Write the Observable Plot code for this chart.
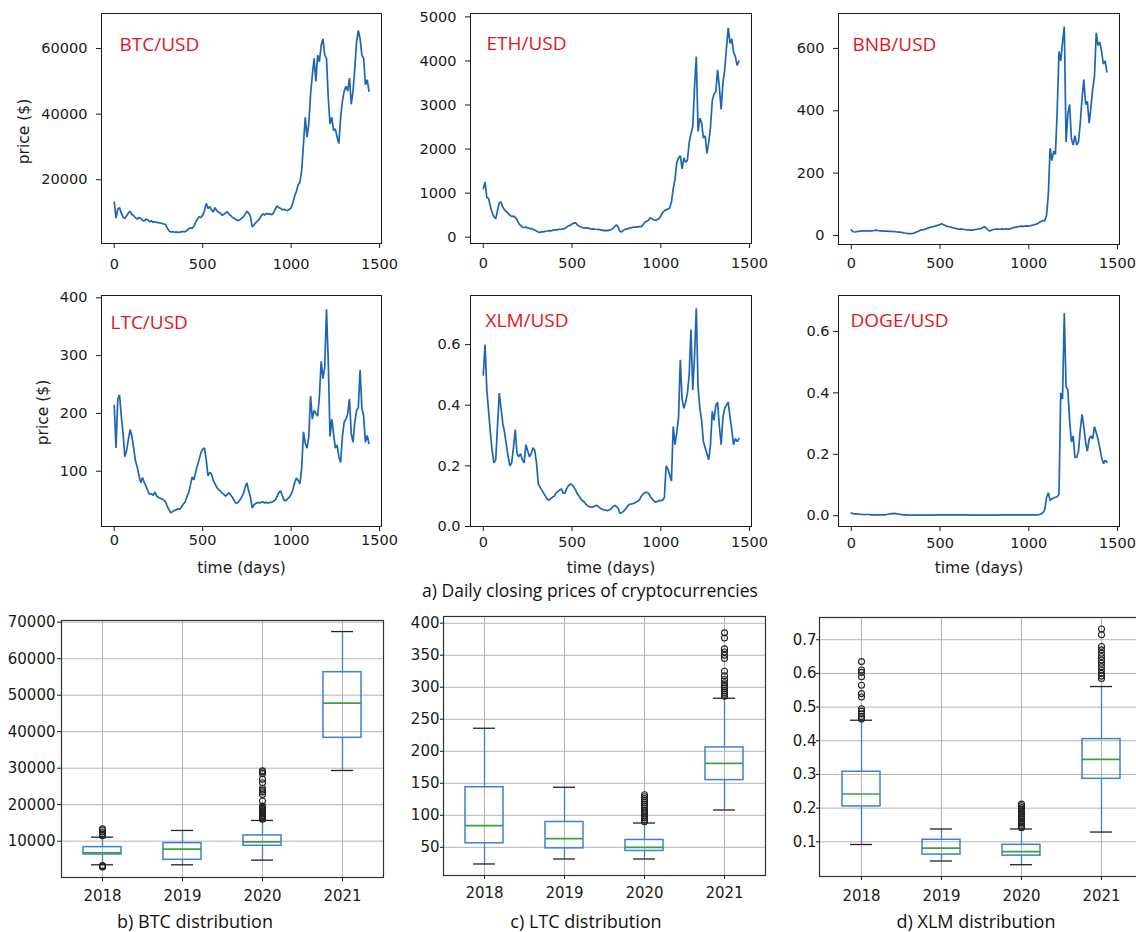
<!DOCTYPE html>
<html><head><meta charset="utf-8">
<script src="https://cdn.jsdelivr.net/npm/d3@7"></script>
<script src="https://cdn.jsdelivr.net/npm/@observablehq/plot@0.6"></script>
<style>
html,body{margin:0;padding:0;background:#fff;}
#root{position:relative;width:1136px;height:932px;overflow:hidden;background:#fff;}
.panel{position:absolute;}
.cap{position:absolute;font-family:"Open Sans",sans-serif;color:#111;white-space:nowrap;line-height:1;transform:translateX(-50%);}
</style></head><body><div id="root"></div>
<script>
// ---------- daily closing prices, one value every 10 days (day 0 .. 1440) ----------
const btcPrice = [
 13200, 8300, 11000, 11500, 9800, 8600, 8200, 9000, 9800, 10400,
 9400, 9000, 8400, 8000, 8500, 8200, 7600, 7400, 8000, 7800,
 7200, 7500, 7000, 7200, 7000, 6900, 6800, 6700, 6500, 6400,
 5200, 4400, 4000, 4200, 3900, 4100, 3900, 4000, 4100, 4200,
 4100, 4500, 5000, 5300, 5200, 5800, 7000, 8000, 8700, 8500,
 9200, 10500, 12800, 11200, 11800, 10800, 10200, 11500, 10500, 10100,
 9800, 9200, 9400, 9900, 10200, 9400, 9000, 8400, 8200, 7800,
 7500, 7800, 8200, 8700, 9500, 10400, 9800, 8800, 5600, 6200,
 6900, 7400, 8000, 8900, 9600, 9200, 9700, 9500, 9600, 9300,
 9800, 11000, 12000, 11500, 11300, 10800, 11000, 10700, 10600, 11000,
 11400, 13000, 15000, 16500, 18500, 19200, 23000, 31000, 39000, 33000,
 37000, 46000, 52000, 57000, 50000, 58000, 56000, 61000, 63000, 58000,
 57000, 45000, 37000, 39000, 35000, 35500, 33000, 31000, 39000, 44000,
 47000, 48500, 47000, 51000, 43000, 47000, 54000, 62000, 65500, 63000,
 58000, 57000, 49000, 50500, 47000];
const ethPrice = [
 1100, 1250, 900, 880, 700, 560, 460, 420, 600, 780,
 800, 680, 620, 580, 540, 500, 470, 480, 450, 400,
 310, 270, 230, 220, 230, 210, 200, 195, 180, 160,
 140, 115, 110, 125, 120, 135, 140, 150, 145, 155,
 165, 165, 170, 180, 180, 190, 200, 230, 260, 270,
 300, 320, 330, 280, 250, 230, 215, 210, 205, 210,
 195, 185, 190, 180, 175, 180, 165, 160, 150, 155,
 150, 160, 170, 200, 240, 280, 230, 130, 120, 160,
 180, 190, 200, 210, 225, 230, 230, 235, 240, 240,
 280, 340, 360, 380, 440, 420, 390, 380, 400, 420,
 480, 560, 600, 620, 640, 660, 800, 1100, 1300, 1700,
 1800, 1850, 1550, 1800, 1700, 1750, 2150, 2350, 2500, 3400,
 4100, 2400, 2700, 2600, 2250, 2300, 1900, 2150, 2500, 3100,
 3250, 3300, 3800, 3400, 2900, 3500, 3800, 4300, 4750, 4400,
 4500, 4200, 4100, 3900, 4000];
const bnbPrice = [
 18, 12, 11, 12, 13, 14, 14, 15, 15, 14,
 15, 15, 15, 16, 17, 16, 15, 15, 14, 14,
 14, 13, 13, 13, 12, 12, 11, 11, 10, 9,
 8, 7, 6, 6, 6, 7, 9, 12, 14, 17,
 18, 19, 21, 23, 25, 27, 28, 30, 31, 33,
 35, 38, 34, 32, 29, 28, 27, 25, 24, 22,
 21, 20, 21, 20, 19, 18, 18, 17, 17, 18,
 19, 20, 21, 22, 25, 28, 24, 18, 14, 17,
 19, 20, 21, 20, 20, 21, 20, 21, 21, 20,
 22, 25, 26, 27, 28, 29, 30, 29, 30, 31,
 30, 31, 33, 34, 36, 38, 42, 45, 48, 47,
 65, 130, 280, 240, 270, 260, 400, 590, 560, 620,
 670, 300, 390, 420, 310, 290, 320, 290, 300, 360,
 440, 500, 420, 430, 360, 410, 470, 510, 650, 610,
 620, 590, 550, 560, 525];
const ltcPrice = [
 214, 140, 225, 232, 195, 165, 125, 136, 155, 172,
 160, 140, 118, 107, 92, 80, 89, 80, 74, 66,
 60, 61, 58, 64, 57, 55, 53, 52, 50, 47,
 39, 33, 28, 30, 32, 33, 35, 34, 38, 43,
 46, 55, 62, 75, 90, 85, 98, 110, 120, 132,
 138, 140, 120, 92, 98, 95, 84, 78, 72, 68,
 66, 62, 60, 57, 60, 63, 58, 54, 48, 44,
 46, 50, 55, 61, 72, 80, 66, 55, 36, 42,
 44, 46, 45, 46, 47, 45, 46, 45, 46, 46,
 48, 50, 56, 63, 66, 58, 50, 49, 52, 55,
 60, 68, 80, 88, 84, 78, 107, 168, 148, 140,
 160, 230, 190, 205, 200, 195, 230, 290, 260, 280,
 380, 290, 160, 190, 165, 140, 145, 125, 115, 160,
 185, 190, 200, 225, 165, 150, 185, 205, 210, 275,
 210, 195, 150, 162, 148];
const xlmPrice = [
 0.50, 0.60, 0.45, 0.38, 0.31, 0.25, 0.21, 0.22, 0.33, 0.44,
 0.39, 0.34, 0.31, 0.27, 0.23, 0.20, 0.21, 0.26, 0.32, 0.24,
 0.23, 0.24, 0.22, 0.21, 0.27, 0.25, 0.23, 0.24, 0.26, 0.25,
 0.21, 0.14, 0.13, 0.12, 0.11, 0.10, 0.09, 0.087, 0.092, 0.097,
 0.10, 0.11, 0.115, 0.12, 0.124, 0.11, 0.11, 0.125, 0.135, 0.14,
 0.138, 0.13, 0.12, 0.108, 0.10, 0.09, 0.085, 0.08, 0.072, 0.068,
 0.065, 0.064, 0.065, 0.068, 0.07, 0.065, 0.06, 0.057, 0.055, 0.054,
 0.052, 0.055, 0.058, 0.065, 0.07, 0.066, 0.06, 0.043, 0.046, 0.05,
 0.057, 0.064, 0.072, 0.074, 0.075, 0.077, 0.08, 0.083, 0.088, 0.10,
 0.107, 0.112, 0.113, 0.11, 0.10, 0.092, 0.085, 0.08, 0.082, 0.086,
 0.085, 0.087, 0.095, 0.20, 0.19, 0.17, 0.15, 0.33, 0.27, 0.31,
 0.36, 0.55, 0.42, 0.39, 0.41, 0.44, 0.50, 0.65, 0.45, 0.56,
 0.72, 0.46, 0.39, 0.35, 0.28, 0.26, 0.24, 0.22, 0.27, 0.38,
 0.35, 0.40, 0.41, 0.33, 0.27, 0.36, 0.39, 0.40, 0.41, 0.36,
 0.32, 0.27, 0.29, 0.28, 0.29];
const dogePrice = [
 0.009, 0.007, 0.006, 0.006, 0.005, 0.005, 0.004, 0.004, 0.004, 0.004,
 0.004, 0.003, 0.003, 0.003, 0.003, 0.003, 0.003, 0.003, 0.003, 0.003,
 0.004, 0.005, 0.006, 0.007, 0.008, 0.007, 0.006, 0.005, 0.004, 0.003,
 0.003, 0.003, 0.002, 0.002, 0.002, 0.002, 0.002, 0.002, 0.002, 0.002,
 0.002, 0.002, 0.002, 0.002, 0.002, 0.002, 0.002, 0.002, 0.003, 0.003,
 0.003, 0.003, 0.003, 0.003, 0.003, 0.003, 0.003, 0.003, 0.003, 0.003,
 0.003, 0.003, 0.003, 0.003, 0.003, 0.003, 0.003, 0.002, 0.002, 0.002,
 0.002, 0.002, 0.002, 0.002, 0.002, 0.002, 0.002, 0.002, 0.002, 0.002,
 0.002, 0.002, 0.002, 0.002, 0.003, 0.003, 0.003, 0.003, 0.003, 0.003,
 0.003, 0.003, 0.003, 0.003, 0.003, 0.003, 0.003, 0.003, 0.003, 0.003,
 0.003, 0.003, 0.003, 0.003, 0.003, 0.003, 0.004, 0.006, 0.010, 0.020,
 0.060, 0.075, 0.050, 0.055, 0.058, 0.060, 0.062, 0.070, 0.400, 0.380,
 0.660, 0.420, 0.410, 0.310, 0.240, 0.260, 0.190, 0.190, 0.210, 0.280,
 0.330, 0.290, 0.240, 0.210, 0.250, 0.260, 0.250, 0.290, 0.270, 0.250,
 0.220, 0.190, 0.170, 0.180, 0.175];
const DAY_STEP = 10;
const dayTicks = [0, 500, 1000, 1500];

// ---------- yearly distributions (box plot summaries) ----------
const years = ["2018", "2019", "2020", "2021"];
const btcLow = [3530, 3530, 4810, 29370];
const btcQ1 = [6360, 4900, 8740, 38320];
const btcMedian = [6820, 7820, 9830, 47810];
const btcQ3 = [8370, 9470, 11570, 56300];
const btcHigh = [11100, 12940, 15680, 67440];
const btcOut2018 = [11500, 12000, 12500, 13100, 13400, 3300, 3150, 2950];
const btcOut2020 = [16000, 16300, 16600, 17000, 17400, 17800, 18100, 18400, 18700, 19000, 19300, 19600, 21000, 22800, 23500, 24000, 24500, 26000, 27000, 28500, 29000, 29300];

const ltcLow = [24, 31.8, 31.8, 108.3];
const ltcQ1 = [56.3, 48.4, 44.3, 155];
const ltcMedian = [83.9, 63.5, 50, 181];
const ltcQ3 = [143.8, 89.6, 61.5, 206];
const ltcHigh = [236, 143.8, 88, 282.8];
const ltcOut2020 = [90, 93, 96, 99, 102, 105, 108, 111, 114, 117, 120, 123, 126, 129, 132];
const ltcOut2021 = [286, 289, 292, 295, 298, 301, 304, 307, 312, 318, 325, 345, 350, 355, 360, 377, 385];

const xlmLow = [0.092, 0.043, 0.032, 0.129];
const xlmQ1 = [0.205, 0.062, 0.059, 0.287];
const xlmMedian = [0.242, 0.081, 0.071, 0.345];
const xlmQ3 = [0.308, 0.106, 0.091, 0.405];
const xlmHigh = [0.461, 0.138, 0.138, 0.561];
const xlmOut2018 = [0.465, 0.472, 0.48, 0.488, 0.495, 0.53, 0.54, 0.565, 0.59, 0.603, 0.61, 0.635];
const xlmOut2020 = [0.142, 0.147, 0.152, 0.157, 0.162, 0.167, 0.172, 0.177, 0.182, 0.187, 0.192, 0.197, 0.202, 0.207, 0.212];
const xlmOut2021 = [0.585, 0.592, 0.6, 0.61, 0.62, 0.63, 0.64, 0.65, 0.66, 0.67, 0.68, 0.715, 0.732];

// ---------- styles ----------
const lineBlue = "#1c66b5";
const boxBlue = "#3a82d2";
const medianGreen = "#3da143";
const labelRed = "#e3151c";
const root = document.getElementById("root");

function place(svg, left, top, width) {
  const div = document.createElement("div");
  div.className = "panel";
  div.style.left = left + "px";
  div.style.top = top + "px";
  div.style.width = width + "px";
  div.appendChild(svg);
  root.appendChild(div);
}

function linePanel(c) {
  const data = c.values.map((v, i) => ({day: i * DAY_STEP, price: v}));
  const marks = [
    Plot.axisX({ticks: dayTicks, tickSize: 5, tickPadding: c.xPad, tickFormat: d3.format("d"), label: null}),
    Plot.axisY({ticks: c.yTicks, tickSize: 5, tickPadding: c.yPad, tickFormat: c.fmt, label: null}),
    Plot.lineY(data, {x: "day", y: "price", stroke: lineBlue, strokeWidth: 1.7, strokeLinejoin: "miter"}),
    Plot.frame({stroke: "#1a1a1a", strokeWidth: 1}),
    Plot.text([c.name], {text: d => d, frameAnchor: "top-left", dx: c.nameDx, dy: c.nameDy, lineAnchor: "top", textAnchor: "start", fill: labelRed, fontSize: 19, fontFamily: "Open Sans"})
  ];
  if (c.yLabel) marks.push(Plot.text(["price ($)"], {text: d => d, frameAnchor: "left", rotate: -90, dx: c.yLabelDx, dy: c.yLabelDy, fontSize: 15.5, textAnchor: "middle", lineAnchor: "middle", fill: "#1a1a1a"}));
  if (c.xLabel) marks.push(Plot.text(["time (days)"], {text: d => d, frameAnchor: "bottom", dy: 42, fontSize: 15.5, textAnchor: "middle", lineAnchor: "middle", fill: "#1a1a1a"}));
  const svg = Plot.plot({
    width: c.width, height: c.height,
    marginLeft: c.mL, marginRight: c.mR, marginTop: c.mT, marginBottom: c.mB,
    style: {fontFamily: "DejaVu Sans", fontSize: "14.5px", color: "#1a1a1a", background: "transparent", maxWidth: "none", overflow: "visible"},
    x: {domain: [-72, 1511]},
    y: {domain: c.yDomain},
    marks
  });
  place(svg, c.left, c.top, c.width);
}

const intFmt = d3.format("d");
const oneDec = d3.format(".1f");

linePanel({values: btcPrice, name: "BTC/USD", left: 0, top: 0, width: 390, height: 280, mL: 101, mR: 9, mT: 13, mB: 37,
  yDomain: [550, 70690], yTicks: [20000, 40000, 60000], fmt: intFmt, xPad: 10, yPad: 9, nameDx: 18, nameDy: 24, yLabel: true, yLabelDx: -77.5, yLabelDy: 3});
linePanel({values: ethPrice, name: "ETH/USD", left: 390, top: 0, width: 380, height: 280, mL: 80, mR: 19, mT: 13, mB: 37,
  yDomain: [-143, 5077], yTicks: [0, 1000, 2000, 3000, 4000, 5000], fmt: intFmt, xPad: 9, yPad: 9, nameDx: 16, nameDy: 23});
linePanel({values: bnbPrice, name: "BNB/USD", left: 770, top: 0, width: 366, height: 280, mL: 68, mR: 17, mT: 13, mB: 36,
  yDomain: [-29, 712], yTicks: [0, 200, 400, 600], fmt: intFmt, xPad: 8, yPad: 9, nameDx: 14, nameDy: 23.5});
linePanel({values: ltcPrice, name: "LTC/USD", left: 0, top: 280, width: 390, height: 300, mL: 101, mR: 9, mT: 15, mB: 54,
  yDomain: [4.3, 404], yTicks: [100, 200, 300, 400], fmt: intFmt, xPad: 3, yPad: 9, nameDx: 9, nameDy: 20, yLabel: true, yLabelDx: -58, yLabelDy: 1.5, xLabel: true});
linePanel({values: xlmPrice, name: "XLM/USD", left: 390, top: 280, width: 380, height: 300, mL: 80, mR: 19, mT: 15, mB: 54,
  yDomain: [0, 0.762], yTicks: [0, 0.2, 0.4, 0.6], fmt: oneDec, xPad: 5, yPad: 5, nameDx: 15, nameDy: 18, xLabel: true});
linePanel({values: dogePrice, name: "DOGE/USD", left: 770, top: 280, width: 366, height: 300, mL: 68, mR: 17, mT: 15, mB: 54,
  yDomain: [-0.035, 0.717], yTicks: [0, 0.2, 0.4, 0.6], fmt: oneDec, xPad: 6, yPad: 4, nameDx: 12, nameDy: 18, xLabel: true});

function boxPanel(c) {
  const rows = years.map((y, i) => ({year: y, lo: c.low[i], q1: c.q1[i], med: c.median[i], q3: c.q3[i], hi: c.high[i]}));
  const outs = [];
  for (const [year, arr] of c.outliers) for (const v of arr) outs.push({year, v});
  const svg = Plot.plot({
    width: c.width, height: c.height,
    marginLeft: c.mL, marginRight: c.mR, marginTop: c.mT, marginBottom: c.mB,
    style: {fontFamily: "DejaVu Sans", fontSize: "15px", color: "#1a1a1a", background: "transparent", maxWidth: "none", overflow: "visible"},
    x: {type: "band", domain: years, padding: 0, align: 0.5},
    y: {domain: c.yDomain},
    marks: [
      Plot.gridY(c.yTicks, {stroke: "#b4b4b4", strokeOpacity: 1, strokeWidth: 1}),
      Plot.gridX(years, {stroke: "#b4b4b4", strokeOpacity: 1, strokeWidth: 1}),
      Plot.axisX({tickSize: 4, tickPadding: c.xPad, label: null}),
      Plot.axisY({ticks: c.yTicks, tickSize: c.yTick, tickPadding: c.yPad, tickFormat: c.fmt, label: null}),
      Plot.ruleX(rows, {x: "year", y1: "lo", y2: "q1", stroke: boxBlue, strokeWidth: 1.3}),
      Plot.ruleX(rows, {x: "year", y1: "q3", y2: "hi", stroke: boxBlue, strokeWidth: 1.3}),
      Plot.tickY(rows, {x: "year", y: "lo", stroke: "#222", strokeWidth: 1.3, insetLeft: 29, insetRight: 29}),
      Plot.tickY(rows, {x: "year", y: "hi", stroke: "#222", strokeWidth: 1.3, insetLeft: 29, insetRight: 29}),
      Plot.barY(rows, {x: "year", y1: "q1", y2: "q3", fill: "none", stroke: boxBlue, strokeWidth: 1.5, insetLeft: 21, insetRight: 21}),
      Plot.tickY(rows, {x: "year", y: "med", stroke: medianGreen, strokeWidth: 1.7, insetLeft: 21, insetRight: 21}),
      Plot.dot(outs, {x: "year", y: "v", r: 3, stroke: "#222", strokeWidth: 1.1, fill: "none"}),
      Plot.frame({stroke: "#333", strokeWidth: 1.2})
    ]
  });
  place(svg, c.left, c.top, c.width);
}

boxPanel({low: btcLow, q1: btcQ1, median: btcMedian, q3: btcQ3, high: btcHigh,
  outliers: [["2018", btcOut2018], ["2020", btcOut2020]],
  left: 0, top: 600, width: 390, height: 310, mL: 61, mR: 7, mT: 20, mB: 33,
  yDomain: [50, 70470], yTicks: [10000, 20000, 30000, 40000, 50000, 60000, 70000], fmt: intFmt, xPad: 9, yTick: 4, yPad: 2});
boxPanel({low: ltcLow, q1: ltcQ1, median: ltcMedian, q3: ltcQ3, high: ltcHigh,
  outliers: [["2020", ltcOut2020], ["2021", ltcOut2021]],
  left: 390, top: 600, width: 380, height: 310, mL: 53, mR: 5, mT: 16, mB: 35,
  yDomain: [6, 410.5], yTicks: [50, 100, 150, 200, 250, 300, 350, 400], fmt: intFmt, xPad: 8, yTick: 3, yPad: 1});
boxPanel({low: xlmLow, q1: xlmQ1, median: xlmMedian, q3: xlmQ3, high: xlmHigh,
  outliers: [["2018", xlmOut2018], ["2020", xlmOut2020], ["2021", xlmOut2021]],
  left: 770, top: 600, width: 380, height: 310, mL: 49, mR: 8, mT: 17, mB: 34,
  yDomain: [-0.003, 0.766], yTicks: [0.1, 0.2, 0.3, 0.4, 0.5, 0.6, 0.7], fmt: oneDec, xPad: 10, yTick: 3, yPad: 0});

// ---------- captions ----------
function caption(text, cx, top, size) {
  const d = document.createElement("div");
  d.className = "cap";
  d.textContent = text;
  d.style.left = cx + "px";
  d.style.top = top + "px";
  d.style.fontSize = size + "px";
  root.appendChild(d);
}
caption("a) Daily closing prices of cryptocurrencies", 590, 582, 17.5);
caption("b) BTC distribution", 195, 912, 18);
caption("c) LTC distribution", 586, 912, 18);
caption("d) XLM distribution", 976, 912, 18);
</script></body></html>
